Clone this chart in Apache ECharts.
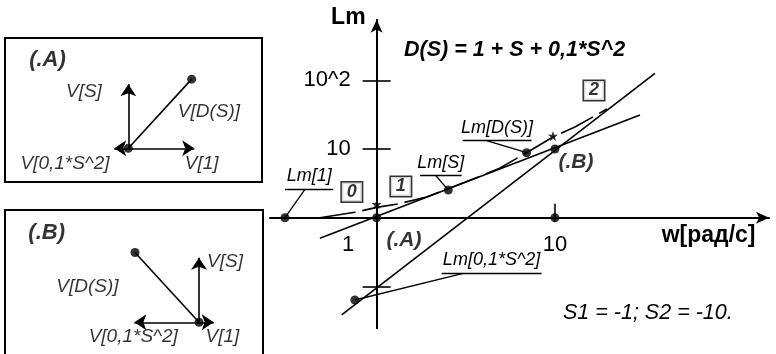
<!DOCTYPE html>
<html>
<head>
<meta charset="utf-8">
<script src="https://cdn.jsdelivr.net/npm/echarts@6/dist/echarts.min.js"></script>
<style>
  html, body { margin: 0; padding: 0; background: #fff; }
  #chart { width: 776px; height: 354px; }
</style>
</head>
<body>
<div id="chart"></div>
<script>
// Bode magnitude of D(S) = 1 + S + 0,1*S^2 on log-log axes, with phasor sketches.
// Main chart coordinates are in decades: x = lg(w), y = lg(Lm).
const FONT = '"Liberation Sans", Arial, Helvetica, sans-serif';

// Asymptotes and the exact magnitude curve
const lmS = [[-0.318, -0.30], [1.477, 1.495]];            // Lm[S], +1 slope
const lmS2 = [[-0.196, -1.416], [1.561, 2.102]];          // Lm[0,1*S^2], +2 slope
const lmD = [[-0.318, 0.0], [-0.122, 0.079], [0, 0.15], [0.119, 0.2], [0.28, 0.3],
             [0.52, 0.54], [0.69, 0.72], [0.841, 0.946], [0.989, 1.175],
             [1.112, 1.32], [1.292, 1.582]];              // Lm[D(S)], dashed
const points = [[-0.514, 0], [0, 0], [0.402, 0.402], [0.841, 0.946],
                [1, 1], [1, 0], [-0.122, -1.198]];
const stars = [[0, 0.195], [0.989, 1.19]];

// Axis ticks
const xLabelValues = [0, 1];
const xLabelText = ['1', '10'];
const xTickValues = [1];
const yLabelValues = [1, 2];
const yLabelText = ['10', '10^2'];
const yTickValues = [-1, 1, 2];

// Callouts: marked point, knee on the underline, underline span
const callouts = [
  { text: 'Lm[1]',       at: [-0.514, 0],      knee: [-0.402, 0.413], span: [-0.514, -0.243] },
  { text: 'Lm[S]',       at: [0.402, 0.402],   knee: [0.333, 0.611],  span: [0.243, 0.477] },
  { text: 'Lm[D(S)]',    at: [0.841, 0.946],   knee: [0.617, 1.121],  span: [0.482, 0.869] },
  { text: 'Lm[0,1*S^2]', at: [-0.122, -1.198], knee: [0.486, -0.809], span: [0.365, 0.925] }
];
const slopeTags = [['0', -0.139, 0.374], ['1', 0.136, 0.454], ['2', 1.219, 1.852]];
const pointTags = [['(.A)', 0.153, -0.325], ['(.B)', 1.118, 0.803]];

// Phasors at the two corner points (arbitrary units)
const phasorA = { v1: [1.03, 0], vS: [0, 1.0], vS2: [-0.22, 0], vD: [0.99, 1.08] };
const phasorB = { v1: [0.23, 0], vS: [0, 1.01], vS2: [-1.01, 0], vD: [-1.0, 1.09] };
const labelsA = [['V[S]', -0.694, 0.884], ['V[D(S)]', 1.261, 0.572],
                 ['V[0,1*S^2]', -0.989, -0.234], ['V[1]', 1.147, -0.234]];
const labelsB = [['V[S]', 0.406, 0.947], ['V[D(S)]', -1.742, 0.556],
                 ['V[0,1*S^2]', -1.027, -0.225], ['V[1]', 0.367, -0.225]];
const titleA = ['(.A)', -1.263, 1.380];
const titleB = ['(.B)', -2.380, 1.403];

// Main plot extent (decades) and where the axes cross
const X_MIN = -0.598, X_MAX = 2.2007;
const Y_MIN = -1.61, Y_MAX = 2.881;
const GRID = { left: 270, right: 7, top: 19.8, bottom: 25.7, width: 776, height: 354 };
const plotW = GRID.width - GRID.left - GRID.right;
const plotH = GRID.height - GRID.top - GRID.bottom;
// offsets that move the axis lines from the grid edges onto x = 0 and y = 0
const xAxisShift = -(plotH * (0 - Y_MIN) / (Y_MAX - Y_MIN));
const yAxisShift = -(plotW * (0 - X_MIN) / (X_MAX - X_MIN));

const chart = echarts.init(document.getElementById('chart'), null, { renderer: 'canvas' });

const black = '#000';
const hidden = { show: false };

function hiddenAxis(gridIndex, min, max) {
  return { type: 'value', gridIndex, min, max, show: false, splitLine: hidden };
}

function phasorSeries(p, labels, title, xi, yi) {
  const arrows = [p.v1, p.vS, p.vS2].map(v => ({ coords: [[0, 0], v] }));
  return [
    {
      type: 'lines', coordinateSystem: 'cartesian2d', xAxisIndex: xi, yAxisIndex: yi,
      data: arrows, symbol: ['none', 'arrow'], symbolSize: 12,
      lineStyle: { color: black, width: 1.6, opacity: 1, curveness: 0 }, silent: true, z: 3
    },
    {
      type: 'lines', coordinateSystem: 'cartesian2d', xAxisIndex: xi, yAxisIndex: yi,
      data: [{ coords: [[0, 0], p.vD] }], symbol: 'none',
      lineStyle: { color: black, width: 1.6, opacity: 1, curveness: 0 }, silent: true, z: 3
    },
    {
      type: 'scatter', xAxisIndex: xi, yAxisIndex: yi, data: [[0, 0], p.vD],
      symbol: 'circle', symbolSize: 9, itemStyle: { color: black }, silent: true, z: 4
    },
    {
      type: 'scatter', xAxisIndex: xi, yAxisIndex: yi, symbolSize: 1,
      itemStyle: { color: 'transparent' }, silent: true, z: 5,
      data: labels.map(l => ({ name: l[0], value: [l[1], l[2]] })),
      label: { show: true, position: 'inside', formatter: '{b}', color: black,
               fontFamily: FONT, fontStyle: 'italic', fontSize: 19 }
    },
    {
      type: 'scatter', xAxisIndex: xi, yAxisIndex: yi, symbolSize: 1,
      itemStyle: { color: 'transparent' }, silent: true, z: 5,
      data: [{ name: title[0], value: [title[1], title[2]] }],
      label: { show: true, position: 'inside', formatter: '{b}', color: black,
               fontFamily: FONT, fontStyle: 'italic', fontWeight: 'bold', fontSize: 22 }
    }
  ];
}

const leaderData = [];
callouts.forEach(c => {
  leaderData.push({ coords: [c.at, c.knee] });
  leaderData.push({
    name: c.text,
    coords: [[c.span[0], c.knee[1]], [c.span[1], c.knee[1]]],
    label: { show: true }
  });
});

const option = {
  animation: false,
  backgroundColor: '#fff',
  title: [
    {
      text: 'D(S) = 1 + S + 0,1*S^2', left: 404, top: 39, padding: 0,
      textStyle: { fontFamily: FONT, fontSize: 21.5, fontWeight: 'bold', fontStyle: 'italic', color: black }
    },
    {
      text: 'S1 = -1; S2 = -10.', left: 563, top: 302, padding: 0,
      textStyle: { fontFamily: FONT, fontSize: 21.5, fontWeight: 'normal', fontStyle: 'italic', color: black }
    }
  ],
  grid: [
    { left: GRID.left, right: GRID.right, top: GRID.top, bottom: GRID.bottom,
      containLabel: false, outerBoundsMode: 'none', show: false },
    { left: 5, top: 38, width: 257, height: 144, containLabel: false, outerBoundsMode: 'none',
      show: true, borderColor: black, borderWidth: 2, backgroundColor: 'transparent' },
    { left: 5, top: 210, width: 258, height: 146, containLabel: false, outerBoundsMode: 'none',
      show: true, borderColor: black, borderWidth: 2, backgroundColor: 'transparent' }
  ],
  xAxis: [
    {
      type: 'value', gridIndex: 0, min: X_MIN, max: X_MAX, position: 'bottom', offset: xAxisShift,
      name: 'w[рад/с]', nameLocation: 'end', nameGap: -13.5, nameMoveOverlap: false,
      nameTextStyle: { fontFamily: FONT, fontSize: 23, fontWeight: 'bold', color: black,
                       align: 'right', verticalAlign: 'top', padding: [6, 0, 0, 0] },
      axisLine: { show: true, onZero: false, symbol: ['none', 'arrow'], symbolSize: [9, 13],
                  lineStyle: { color: black, width: 2 } },
      axisTick: { show: false },
      axisLabel: {
        show: true, customValues: xLabelValues, margin: 16, color: black,
        fontFamily: FONT, fontSize: 22,
        formatter: v => {
          const i = xLabelValues.indexOf(Math.round(v * 1000) / 1000);
          return i === 0 ? '{o|' + xLabelText[0] + '}' : xLabelText[i];
        },
        rich: { o: { fontFamily: FONT, fontSize: 22, color: black, padding: [0, 57, 0, 0] } }
      },
      splitLine: hidden
    },
    hiddenAxis(1, -1.927, 2.089),
    hiddenAxis(2, -3.031, 1.0)
  ],
  yAxis: [
    {
      type: 'value', gridIndex: 0, min: Y_MIN, max: Y_MAX, position: 'left', offset: yAxisShift,
      name: 'Lm', nameLocation: 'end', nameGap: 2, nameMoveOverlap: false,
      nameTextStyle: { fontFamily: FONT, fontSize: 23, fontWeight: 'bold', color: black,
                       align: 'right', verticalAlign: 'middle', padding: [0, 11, 0, 0] },
      axisLine: { show: true, onZero: false, symbol: ['none', 'arrow'], symbolSize: [9, 13],
                  lineStyle: { color: black, width: 2 } },
      axisTick: { show: true, inside: false, length: 14, customValues: yTickValues,
                  lineStyle: { color: black, width: 1.6 } },
      axisLabel: {
        show: true, customValues: yLabelValues, margin: 26, color: black,
        fontFamily: FONT, fontSize: 22,
        formatter: v => yLabelText[yLabelValues.indexOf(Math.round(v))]
      },
      splitLine: hidden
    },
    {
      type: 'value', gridIndex: 0, min: Y_MIN, max: Y_MAX, position: 'left', offset: yAxisShift,
      axisLine: { show: false, onZero: false },
      axisTick: { show: true, inside: true, length: 14, customValues: yTickValues,
                  lineStyle: { color: black, width: 1.6 } },
      axisLabel: hidden,
      splitLine: hidden
    },
    hiddenAxis(1, -0.527, 1.723),
    hiddenAxis(2, -0.527, 1.755)
  ],
  series: [
    {
      type: 'line', xAxisIndex: 0, yAxisIndex: 0, data: lmS, showSymbol: false, silent: true,
      lineStyle: { color: black, width: 1.6 }, z: 2
    },
    {
      type: 'line', xAxisIndex: 0, yAxisIndex: 0, data: lmS2, showSymbol: false, silent: true,
      lineStyle: { color: black, width: 1.6 }, z: 2
    },
    {
      type: 'line', xAxisIndex: 0, yAxisIndex: 0, data: lmD, showSymbol: false, silent: true,
      lineStyle: { color: black, width: 1.6, type: [36, 7] }, z: 2
    },
    {
      // tick marks on the w axis: 14 px above the line, 4 px below
      type: 'scatter', xAxisIndex: 0, yAxisIndex: 0, silent: true, z: 3,
      data: xTickValues.map(v => [v, 0]),
      symbol: 'rect', symbolSize: [2, 18], symbolOffset: [0, -5],
      itemStyle: { color: black }
    },
    {
      type: 'lines', coordinateSystem: 'cartesian2d', xAxisIndex: 0, yAxisIndex: 0,
      data: leaderData, symbol: 'none', silent: true, z: 2,
      lineStyle: { color: black, width: 1.3, opacity: 1, curveness: 0 },
      label: { show: false, position: 'insideMiddleTop', formatter: '{b}', distance: 4, color: black,
               fontFamily: FONT, fontStyle: 'italic', fontSize: 18 }
    },
    {
      type: 'scatter', xAxisIndex: 0, yAxisIndex: 0, data: points, symbol: 'circle', symbolSize: 9,
      itemStyle: { color: black }, silent: true, z: 4
    },
    {
      type: 'scatter', xAxisIndex: 0, yAxisIndex: 0, data: stars, symbolSize: 10,
      symbol: 'path://M0,-10L2.4,-3.1L9.5,-3.1L3.8,1.2L5.9,8.1L0,4L-5.9,8.1L-3.8,1.2L-9.5,-3.1L-2.4,-3.1Z',
      itemStyle: { color: black }, silent: true, z: 4
    },
    {
      type: 'scatter', xAxisIndex: 0, yAxisIndex: 0, symbolSize: 1, itemStyle: { color: 'transparent' },
      silent: true, z: 5,
      data: slopeTags.map(t => ({ name: t[0], value: [t[1], t[2]] })),
      label: { show: true, position: 'inside', formatter: '{b}', color: black,
               fontFamily: FONT, fontStyle: 'italic', fontWeight: 'bold', fontSize: 18,
               backgroundColor: '#fff', borderColor: black, borderWidth: 1.5, padding: [1, 5, 0, 5] }
    },
    {
      type: 'scatter', xAxisIndex: 0, yAxisIndex: 0, symbolSize: 1, itemStyle: { color: 'transparent' },
      silent: true, z: 5,
      data: pointTags.map(t => ({ name: t[0], value: [t[1], t[2]] })),
      label: { show: true, position: 'inside', formatter: '{b}', color: black,
               fontFamily: FONT, fontStyle: 'italic', fontWeight: 'bold', fontSize: 21 }
    }
  ]
    .concat(phasorSeries(phasorA, labelsA, titleA, 1, 2))
    .concat(phasorSeries(phasorB, labelsB, titleB, 2, 3))
};

chart.setOption(option);
</script>
</body>
</html>
